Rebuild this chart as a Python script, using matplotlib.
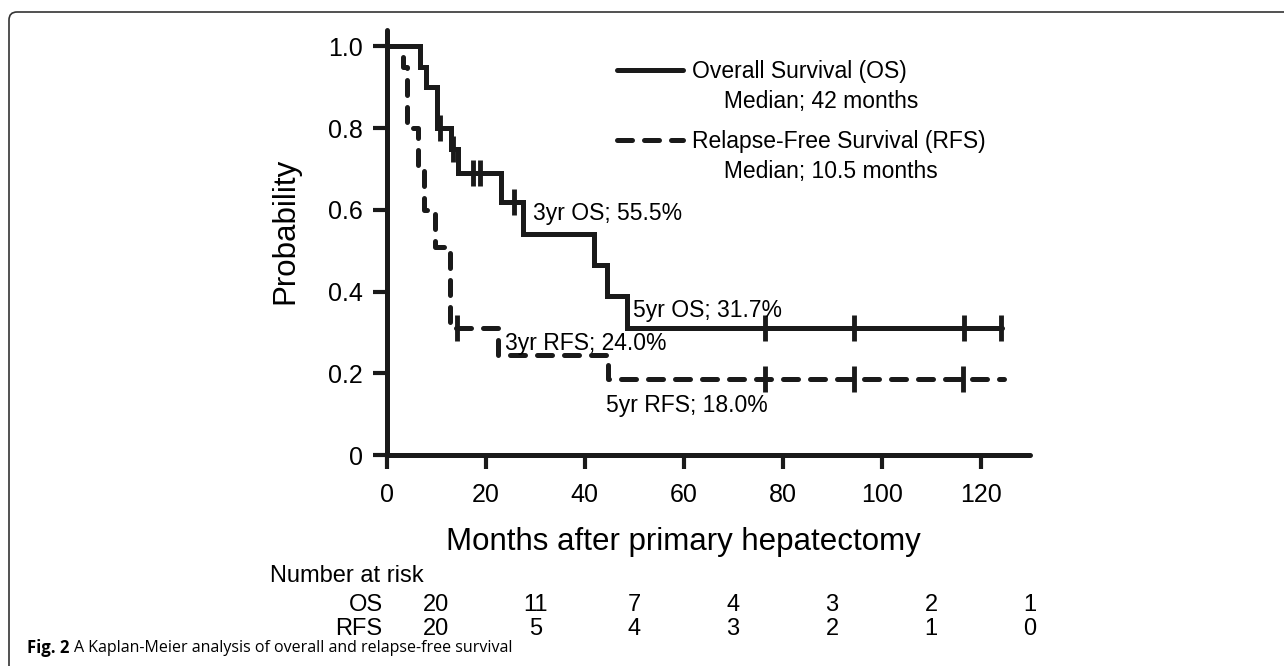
import numpy as np
import matplotlib.pyplot as plt
from matplotlib.lines import Line2D
from matplotlib.patches import FancyBboxPatch

plt.rcParams['font.family'] = ['Liberation Sans', 'DejaVu Sans']

# Kaplan-Meier steps (months, survival)
os_t = [0, 6.7, 7.9, 10.1, 13.0, 14.4, 23.1, 27.5, 41.9, 44.6, 48.6, 124.4]
os_s = [1.0, 0.95, 0.90, 0.80, 0.75, 0.69, 0.62, 0.54, 0.465, 0.39, 0.31, 0.31]
os_cens = [10.8, 13.3, 17.4, 18.8, 25.8, 76.5, 94.5, 116.6, 124.1]

rfs_t = [0, 3.3, 4.0, 6.4, 7.6, 9.8, 12.8, 22.5, 44.8, 124.8]
rfs_s = [1.0, 0.95, 0.80, 0.70, 0.60, 0.51, 0.31, 0.245, 0.185, 0.185]
rfs_cens = [14.1, 76.5, 94.5, 116.4]

# number at risk table
risk_months = [10, 30, 50, 70, 90, 110, 130]
risk_os = [20, 11, 7, 4, 3, 2, 1]
risk_rfs = [20, 5, 4, 3, 2, 1, 0]

# annotations: (text, month, probability)
notes = [('3yr OS; 55.5%', 29.5, 0.592),
         ('5yr OS; 31.7%', 49.7, 0.354),
         ('3yr RFS; 24.0%', 23.9, 0.273),
         ('5yr RFS; 18.0%', 44.4, 0.122)]

ink = '#1a1a1a'
lw = 3.6


def step_value(t, s, x):
    i = np.searchsorted(t, x, side='right') - 1
    return np.asarray(s)[i]


fig = plt.figure(figsize=(12.84, 6.66), dpi=100)
ax = fig.add_axes([0.3012, 0.3168, 0.501, 0.638])

ax.step(os_t, os_s, where='post', color=ink, lw=lw, solid_capstyle='round',
        solid_joinstyle='miter')
ax.step(rfs_t, rfs_s, where='post', color=ink, lw=lw,
        linestyle=(0, (3.0, 2.4)), dash_capstyle='round')
ax.plot(os_cens, step_value(os_t, os_s, os_cens), ls='none', marker='|',
        ms=19, mew=3.5, color=ink)
ax.plot(rfs_cens, step_value(rfs_t, rfs_s, rfs_cens), ls='none', marker='|',
        ms=19, mew=3.5, color=ink)

for txt, x, y in notes:
    ax.text(x, y, txt, fontsize=16.5, va='center', ha='left')

# legend, drawn as two blocks so the line sits on the first text row
blank = Line2D([], [], ls='none')
h1 = Line2D([], [], color=ink, lw=lw, solid_capstyle='round')
h2 = Line2D([], [], color=ink, lw=lw, linestyle=(0, (3.0, 2.4)),
            dash_capstyle='round')
kw = dict(frameon=False, fontsize=16.5, handlelength=2.9, handletextpad=0.35,
          borderpad=0, borderaxespad=0, labelspacing=0.3, loc='upper left')
leg1 = ax.legend([h1, blank], ['Overall Survival (OS)', '     Median; 42 months'],
                 bbox_to_anchor=(0.358, 0.93), **kw)
ax.add_artist(leg1)
ax.legend([h2, blank], ['Relapse-Free Survival (RFS)', '     Median; 10.5 months'],
          bbox_to_anchor=(0.358, 0.765), **kw)

ax.set_xlim(0, 130)
ax.set_ylim(0, 1.04)
ax.set_xticks([0, 20, 40, 60, 80, 100, 120])
ax.set_yticks([0, 0.2, 0.4, 0.6, 0.8, 1.0])
ax.set_yticklabels(['0', '0.2', '0.4', '0.6', '0.8', '1.0'])
ax.tick_params(direction='out', length=10, width=3, color=ink, labelsize=18,
               pad=7)
ax.tick_params(axis='x', pad=10)
for side in ['top', 'right']:
    ax.spines[side].set_visible(False)
for side in ['left', 'bottom']:
    ax.spines[side].set_linewidth(lw)
    ax.spines[side].set_color(ink)
    ax.spines[side].set_capstyle('round')

ax.set_xlabel('Months after primary hepatectomy', fontsize=22.5)
ax.xaxis.set_label_coords(60 / 130, -0.17)
ax.set_ylabel('Probability', fontsize=22.5)
ax.yaxis.set_label_coords(-0.135, 0.527)

# number at risk
fs_risk = 17
fig.text(0.21, 0.135, 'Number at risk', fontsize=fs_risk, va='center')
for lab, vals, yy in [('OS', risk_os, 0.092), ('RFS', risk_rfs, 0.056)]:
    fig.text(0.298, yy, lab, fontsize=fs_risk, va='center', ha='right')
    for m, v in zip(risk_months, vals):
        xf = ax.transData.transform((m, 0))[0] / fig.bbox.width
        fig.text(xf, yy, str(v), fontsize=fs_risk, va='center', ha='center')

# caption
r = fig.canvas.get_renderer()
cap_font = ['Open Sans', 'DejaVu Sans']
t1 = fig.text(0.021, 0.027, 'Fig. 2', fontsize=12, fontweight='bold',
              family=cap_font, va='center')
w = t1.get_window_extent(r).width / fig.bbox.width
fig.text(0.021 + w + 0.004, 0.027,
         'A Kaplan-Meier analysis of overall and relapse-free survival',
         fontsize=11.5, family=cap_font, va='center')

# outer frame
fig.patches.append(FancyBboxPatch((9, -20), 1300, 654 + 20, transform=None,
                                  boxstyle='round,pad=0,rounding_size=8',
                                  fill=False, lw=1.2, ec='#333333'))

fig.savefig('out.png', dpi=100)
